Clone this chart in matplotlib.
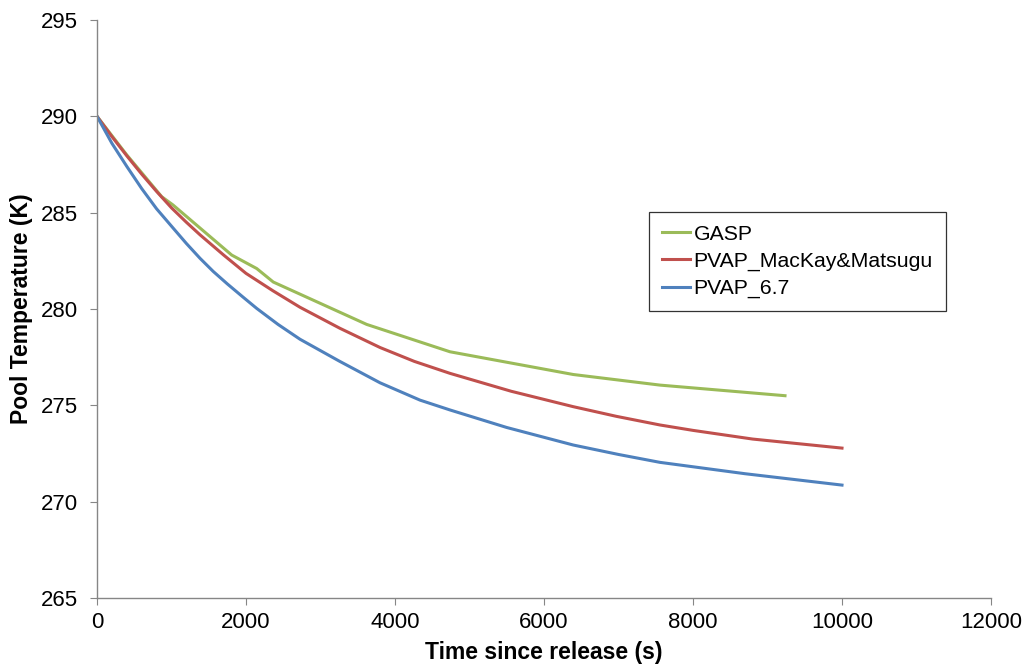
import matplotlib
matplotlib.use("Agg")
import matplotlib.pyplot as plt

plt.rcParams["font.family"] = ["Liberation Sans", "DejaVu Sans"]

# GASP (piecewise)
gasp_t = [0, 399, 868, 1020, 1808, 2144, 2366, 3620, 4738, 6393, 7557, 9235]
gasp_T = [290.0, 288.0, 285.83, 285.4, 282.8, 282.1, 281.4, 279.2, 277.78, 276.6, 276.05, 275.5]

# PVAP_MacKay&Matsugu
mack_t = [0, 200, 400, 600, 800, 1000, 1200, 1383, 1700, 2000, 2360, 2725, 3260, 3800, 4260,
          4738, 5560, 6393, 6970, 7557, 8000, 8800, 10000]
mack_T = [290.0, 288.95, 287.95, 287.0, 286.1, 285.25, 284.5, 283.85, 282.8, 281.85, 280.95,
          280.09, 279.0, 278.0, 277.28, 276.66, 275.73, 274.93, 274.43, 273.98, 273.7, 273.25, 272.78]

# PVAP_6.7
p67_t = [0, 200, 400, 600, 800, 1024, 1200, 1383, 1560, 1750, 1950, 2144, 2430, 2725, 3250,
         3799, 4336, 4738, 5500, 6393, 7000, 7557, 8700, 10000]
p67_T = [290.0, 288.6, 287.4, 286.25, 285.2, 284.19, 283.4, 282.63, 281.95, 281.3, 280.65,
         280.03, 279.2, 278.43, 277.3, 276.17, 275.27, 274.76, 273.85, 272.94, 272.45, 272.04,
         271.45, 270.86]

GREEN, RED, BLUE = "#9BBB59", "#C0504D", "#4F81BD"
AXC = "#868686"

fig = plt.figure(figsize=(10.25, 6.66), dpi=100)
ax = fig.add_axes([97 / 1025, 1 - 598 / 666, (991 - 97) / 1025, (598 - 20) / 666])

ax.plot(gasp_t, gasp_T, color=GREEN, lw=2.2, label="GASP")
ax.plot(mack_t, mack_T, color=RED, lw=2.2, label="PVAP_MacKay&Matsugu")
ax.plot(p67_t, p67_T, color=BLUE, lw=2.2, label="PVAP_6.7")

ax.set_xlim(0, 12000)
ax.set_ylim(265, 295)
ax.set_xticks(range(0, 12001, 2000))
ax.set_yticks(range(265, 296, 5))
for s in ("top", "right"):
    ax.spines[s].set_visible(False)
for s in ("left", "bottom"):
    ax.spines[s].set_color(AXC)
    ax.spines[s].set_linewidth(1.0)
ax.tick_params(direction="out", length=5, color=AXC, labelsize=16)
ax.tick_params(axis="y", pad=9)
ax.tick_params(axis="x", pad=5)

ax.set_xlabel("Time since release (s)", fontsize=16.5, fontweight="bold")
ax.set_ylabel("Pool Temperature (K)", fontsize=16.5, fontweight="bold")
ax.xaxis.set_label_coords(0.5, -0.075)
ax.yaxis.set_label_coords(-0.0716, 0.5)

leg = ax.legend(loc="upper left", bbox_to_anchor=(649 / 1025, 1 - 212 / 666),
                bbox_transform=fig.transFigure, borderaxespad=0, fontsize=15.3,
                frameon=True, fancybox=False, handlelength=1.35, handletextpad=0.15,
                borderpad=0.6, labelspacing=0.38)
leg.get_frame().set_edgecolor("#000000")
leg.get_frame().set_linewidth(0.9)

fig.savefig("out.png", dpi=100)
